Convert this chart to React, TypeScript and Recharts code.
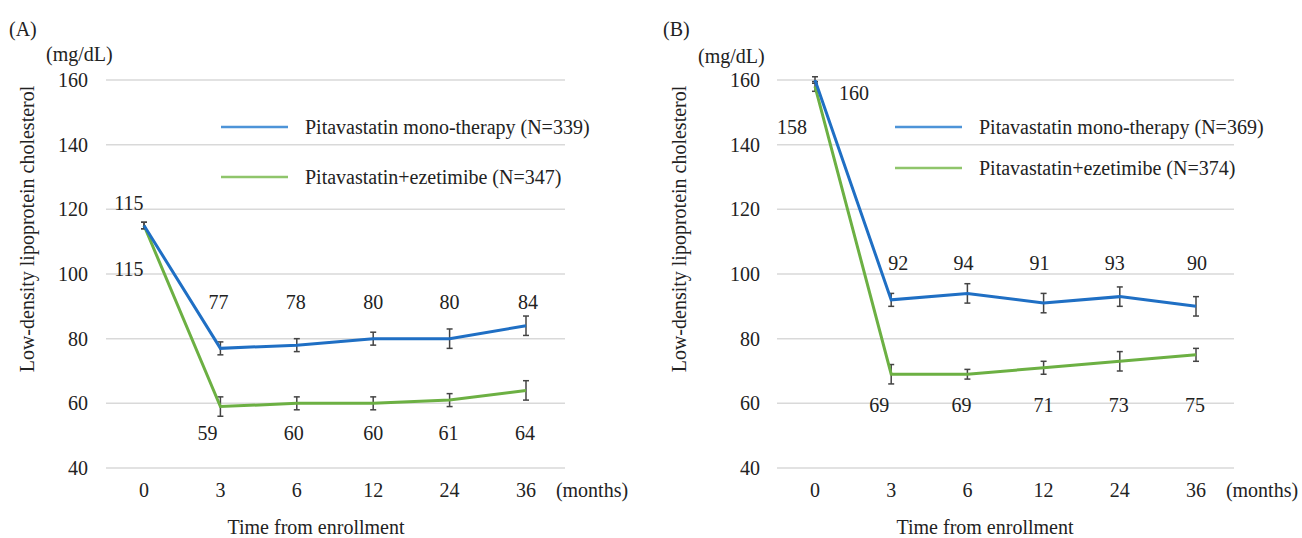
import React from 'react';
import { LineChart, Line, XAxis, YAxis, CartesianGrid, ErrorBar, LabelList } from 'recharts';

// time points (months) and LDL-C means with error margins
const months = ['0', '3', '6', '12', '24', '36'];
const yTicks = [40, 60, 80, 100, 120, 140, 160];

const monoA = [115, 77, 78, 80, 80, 84];
const monoAErr = [1, 2, 2, 2, 3, 3];
const comboA = [115, 59, 60, 60, 61, 64];
const comboAErr = [1, 3, 2, 2, 2, 3];

const monoB = [160, 92, 94, 91, 93, 90];
const monoBErr = [1, 2, 3, 3, 3, 3];
const comboB = [158, 69, 69, 71, 73, 75];
const comboBErr = [1.5, 3, 1.5, 2, 3, 2];

const BLUE = '#1f6fc4';
const GREEN = '#6cb043';
const FONT = 'Liberation Serif';
const TEXT = '#222';

const buildRows = (mono: number[], monoErr: number[], combo: number[], comboErr: number[]) =>
    months.map((m, i) => ({ m, mono: mono[i], monoErr: monoErr[i], combo: combo[i], comboErr: comboErr[i] }));

type LabelSpec = {
    first: { dx: number; dy: number };
    rowY: number;
    dx: number[];
};

const makeLabel = (spec: LabelSpec) => (props: any) => {
    const { x, y, value, index } = props;
    let tx = x + spec.dx[index];
    let ty = spec.rowY;
    if (index === 0) {
        tx = x + spec.first.dx;
        ty = y + spec.first.dy;
    }
    return (
        <text x={tx} y={ty} textAnchor="middle" dominantBaseline="central" fill={TEXT} fontSize={20} fontFamily={FONT}>
            {value}
        </text>
    );
};

const Panel: React.FC<{
    rows: any[];
    yWidth: number;
    tickGap: number;
    right: number;
    pad: { left: number; right: number };
    monoLabel: LabelSpec;
    comboLabel: LabelSpec;
}> = ({ rows, yWidth, tickGap, right, pad, monoLabel, comboLabel }) => (
    <LineChart width={651} height={538} data={rows} margin={{ top: 80, right, bottom: 0, left: 0 }}>
        <CartesianGrid vertical={false} stroke="#d9d9d9" strokeWidth={1.5} />
        <XAxis
            dataKey="m"
            axisLine={false}
            tickLine={false}
            tickSize={0}
            tickMargin={15}
            height={70}
            padding={pad}
            interval={0}
            tick={{ fontSize: 20, fill: TEXT, fontFamily: FONT }}
        />
        <YAxis
            domain={[40, 160]}
            allowDataOverflow
            ticks={yTicks}
            width={yWidth}
            axisLine={false}
            tickLine={false}
            tickSize={0}
            tickMargin={tickGap}
            tick={{ fontSize: 20, fill: TEXT, fontFamily: FONT }}
        />
        <Line type="linear" dataKey="combo" stroke={GREEN} strokeWidth={3} dot={false} isAnimationActive={false}>
            <ErrorBar dataKey="comboErr" width={3} stroke="#444" strokeWidth={1.5} direction="y" isAnimationActive={false} />
            <LabelList dataKey="combo" content={makeLabel(comboLabel)} />
        </Line>
        <Line type="linear" dataKey="mono" stroke={BLUE} strokeWidth={3} dot={false} isAnimationActive={false}>
            <ErrorBar dataKey="monoErr" width={3} stroke="#444" strokeWidth={1.5} direction="y" isAnimationActive={false} />
            <LabelList dataKey="mono" content={makeLabel(monoLabel)} />
        </Line>
    </LineChart>
);

// titles, units and legend drawn on top
const Overlay: React.FC = () => {
    const t = { fill: TEXT, fontSize: 20, fontFamily: FONT };
    const legend = (x: number, y: number, color: string, name: string) => (
        <g>
            <line x1={x} x2={x + 67} y1={y} y2={y} stroke={color} strokeWidth={2.5} />
            <text x={x + 84} y={y} dominantBaseline="central" {...t}>{name}</text>
        </g>
    );
    return (
        <svg width={1302} height={538} style={{ position: 'absolute', left: 0, top: 0, pointerEvents: 'none' }}>
            <text x={9} y={29} dominantBaseline="central" {...t}>(A)</text>
            <text x={46} y={54} dominantBaseline="central" {...t}>(mg/dL)</text>
            <text x={592} y={490} textAnchor="middle" dominantBaseline="central" {...t}>(months)</text>
            <text x={316} y={527} textAnchor="middle" dominantBaseline="central" {...t}>Time from enrollment</text>
            <text transform="translate(27,229) rotate(-90)" textAnchor="middle" dominantBaseline="central" {...t}>
                Low-density lipoprotein cholesterol
            </text>
            {legend(221, 127, '#4d94d8', 'Pitavastatin mono-therapy (N=339)')}
            {legend(221, 177, '#8fc56b', 'Pitavastatin+ezetimibe (N=347)')}

            <text x={663} y={29} dominantBaseline="central" {...t}>(B)</text>
            <text x={698} y={56} dominantBaseline="central" {...t}>(mg/dL)</text>
            <text x={1262} y={490} textAnchor="middle" dominantBaseline="central" {...t}>(months)</text>
            <text x={985} y={527} textAnchor="middle" dominantBaseline="central" {...t}>Time from enrollment</text>
            <text transform="translate(679,229) rotate(-90)" textAnchor="middle" dominantBaseline="central" {...t}>
                Low-density lipoprotein cholesterol
            </text>
            {legend(895, 127, '#4d94d8', 'Pitavastatin mono-therapy (N=369)')}
            {legend(895, 168, '#8fc56b', 'Pitavastatin+ezetimibe (N=374)')}
        </svg>
    );
};

export default function App() {
    const rowsA = buildRows(monoA, monoAErr, comboA, comboAErr);
    const rowsB = buildRows(monoB, monoBErr, comboB, comboBErr);
    return (
        <div style={{ position: 'absolute', left: 0, top: 0, width: 1302, height: 538, background: '#fff', fontFamily: FONT }}>
            <div style={{ position: 'absolute', left: 0, top: 0 }}>
                <Panel
                    rows={rowsA}
                    yWidth={106}
                    tickGap={18}
                    right={86}
                    pad={{ left: 38, right: 39 }}
                    monoLabel={{ first: { dx: -15, dy: -23 }, rowY: 302, dx: [0, -2, -1, 0, 0, 2] }}
                    comboLabel={{ first: { dx: -15, dy: 43 }, rowY: 433, dx: [0, -13, -3, 0, -1, -1] }}
                />
            </div>
            <div style={{ position: 'absolute', left: 651, top: 0 }}>
                <Panel
                    rows={rowsB}
                    yWidth={126}
                    tickGap={17}
                    right={68}
                    pad={{ left: 38, right: 38 }}
                    monoLabel={{ first: { dx: 39, dy: 13 }, rowY: 263, dx: [0, 7, -4, -4, -5, 1] }}
                    comboLabel={{ first: { dx: -23, dy: 41 }, rowY: 405, dx: [0, -12, -6, 0, -1, -1] }}
                />
            </div>
            <Overlay />
        </div>
    );
}
